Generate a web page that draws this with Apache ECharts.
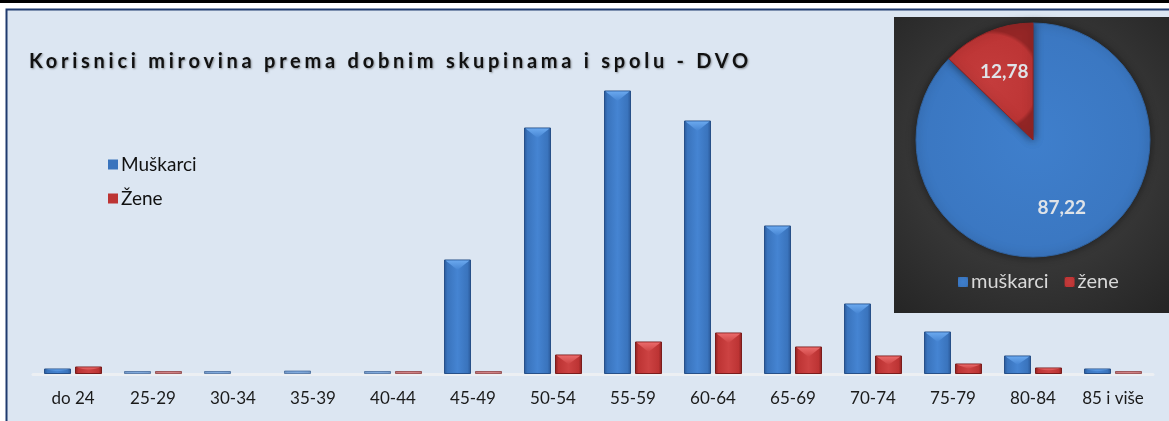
<!DOCTYPE html>
<html>
<head>
<meta charset="utf-8">
<script src="https://cdn.jsdelivr.net/npm/echarts@6/dist/echarts.min.js"></script>
<style>
  html, body { margin: 0; padding: 0; background: #ffffff; }
  #wrap { position: relative; width: 1169px; height: 421px; overflow: hidden; }
  #chart { position: absolute; left: 0; top: 0; width: 1169px; height: 421px; }
  #title { position: absolute; left: 29px; top: 48px; font-family: Lato, sans-serif; font-weight: bold;
           font-size: 20px; color: #111; white-space: nowrap; text-shadow: 1px 1px 2px rgba(0,0,0,0.35); }
</style>
</head>
<body>
<div id="wrap">
  <div id="chart"></div>
  <div id="title">Korisnici mirovina prema dobnim skupinama i spolu - DVO</div>
</div>
<script>
// ---- data ----
var categories = ['do 24','25-29','30-34','35-39','40-44','45-49','50-54','55-59','60-64','65-69','70-74','75-79','80-84','85 i više'];
var barSeriesNames = ['Muškarci', 'Žene'];
var muskarci = [50, 12, 10, 30, 14, 1140, 2460, 2830, 2530, 1480, 700, 420, 180, 50];
var zene     = [70, 8, 0, 0, 8, 20, 190, 320, 410, 270, 180, 100, 60, 12];
var pieNames  = ['muškarci', 'žene'];
var pieValues = [87.22, 12.78];

// fit title letter spacing to its width in the reference
(function(){
  var t = document.getElementById('title');
  t.style.letterSpacing = '0px';
  var w = t.getBoundingClientRect().width;
  var n = t.textContent.length;
  t.style.letterSpacing = ((723 - w) / n).toFixed(2) + 'px';
})();

var palette = {
  blue: { edge: '#2a5897', mid: '#3a74bd', light: '#4584d2', top: '#6aa8ee', stroke: '#275089' },
  red:  { edge: '#8a2020', mid: '#bd3434', light: '#cc4242', top: '#ea6a6a', stroke: '#7a1c1c' }
};

function bevelBar(pal, offset) {
  return function (params, api) {
    var idx = api.value(0), val = api.value(1);
    if (!(val > 0)) return null;
    var p = api.coord([idx, val]);
    var b = api.coord([idx, 0]);
    var w = 26;
    var l = p[0] + offset - w / 2, r = l + w, cx = l + w / 2;
    var bottom = b[1] - 0.5;
    var h = Math.max(bottom - p[1], 2);   // minimum visible height, like barMinHeight
    var top = bottom - h;
    var grad = new echarts.graphic.LinearGradient(0, 0, 1, 0, [
      {offset: 0, color: pal.edge}, {offset: 0.13, color: pal.mid}, {offset: 0.5, color: pal.light},
      {offset: 0.87, color: pal.mid}, {offset: 1, color: pal.edge}]);
    var children = [{ type: 'rect', shape: {x: l, y: top, width: w, height: h},
      style: {fill: grad, stroke: pal.stroke, lineWidth: 1, opacity: h < 3 ? 0.6 : 1} }];
    if (h > 3) {
      var d = Math.min(10, h / 2);
      children.push({ type: 'polygon', shape: {points: [[l + 1, top + 0.5], [r - 1, top + 0.5], [cx, top + d]]},
        style: {fill: new echarts.graphic.LinearGradient(0, 0, 0, 1, [
          {offset: 0, color: pal.top}, {offset: 1, color: pal.light}])} });
    }
    return { type: 'group', children: children };
  };
}

var chart = echarts.init(document.getElementById('chart'), null, {renderer: 'canvas'});
var option = {
  animation: false,
  backgroundColor: '#ffffff',
  textStyle: { fontFamily: 'Lato, sans-serif' },
  graphic: [
    { type: 'rect', silent: true, z: -10, shape: {x: 0, y: 0, width: 1169, height: 3}, style: {fill: '#000000'} },
    { type: 'rect', silent: true, z: -10, shape: {x: 6.5, y: 9.5, width: 1180, height: 430},
      style: {fill: '#dce6f2', stroke: '#1f3a6e', lineWidth: 2} },
    { type: 'rect', silent: true, z: -9, shape: {x: 894, y: 17, width: 275, height: 296},
      style: {fill: new echarts.graphic.RadialGradient(0.5, 0.45, 0.75, [
        {offset: 0, color: '#4b4b4b'}, {offset: 1, color: '#262626'}])} }
  ],
  legend: [
    { data: barSeriesNames, orient: 'vertical', left: 103, top: 150, itemGap: 15,
      itemWidth: 10, itemHeight: 10, icon: 'rect', itemStyle: {borderWidth: 0},
      textStyle: { fontSize: 19, color: '#111', fontFamily: 'Lato, sans-serif', padding: [0,0,0,-2] } },
    { data: pieNames, orient: 'horizontal', left: 953, top: 267, itemGap: 16,
      itemWidth: 10, itemHeight: 10, icon: 'rect', itemStyle: {borderWidth: 0},
      textStyle: { fontSize: 20, color: '#d9d9d9', fontFamily: 'Lato, sans-serif', padding: [0,0,0,-2] } }
  ],
  grid: { left: 33, right: 16, top: 74, bottom: 47, containLabel: false },
  xAxis: {
    type: 'category', data: categories,
    axisLine: { show: true, lineStyle: { color: '#eceff3', width: 3 } },
    axisTick: { show: false },
    axisLabel: { interval: 0, color: '#1a1a1a', fontSize: 17, margin: 16, fontFamily: 'Lato, sans-serif' }
  },
  yAxis: { type: 'value', min: 0, max: 3000, show: false, splitLine: {show: false} },
  series: [
    { name: barSeriesNames[0], type: 'custom', renderItem: bevelBar(palette.blue, -15.5),
      itemStyle: { color: palette.blue.mid }, encode: {x: 0, y: 1},
      data: muskarci.map(function (v, i) { return [i, v]; }) },
    { name: barSeriesNames[1], type: 'custom', renderItem: bevelBar(palette.red, 15.5),
      itemStyle: { color: palette.red.mid }, encode: {x: 0, y: 1},
      data: zene.map(function (v, i) { return [i, v]; }) },
    { name: 'pie', type: 'pie', center: [1033, 140], radius: [0, 117], startAngle: 90, clockwise: true,
      label: { show: false }, labelLine: { show: false },
      itemStyle: { borderWidth: 1, shadowBlur: 8, shadowColor: 'rgba(0,0,0,0.5)' },
      data: pieValues.map(function (v, i) {
        return { name: pieNames[i], value: v,
          itemStyle: { color: i === 0 ? new echarts.graphic.RadialGradient(0.5, 0.5, 0.6, [
              {offset: 0, color: '#3f7fcc'}, {offset: 0.92, color: '#3a76c0'}, {offset: 1, color: '#2f63a4'}])
            : new echarts.graphic.RadialGradient(0.5, 0.5, 0.6, [
              {offset: 0, color: '#c43c3c'}, {offset: 0.92, color: '#bd3535'}, {offset: 1, color: '#952626'}]),
            borderColor: i === 0 ? '#30629f' : '#8e2525' } };
      }) },
    { name: 'pieLabels', type: 'pie', center: [1033, 140], radius: [24, 117], startAngle: 90, clockwise: true,
      silent: true, z: 5, labelLine: { show: false },
      itemStyle: { color: 'rgba(0,0,0,0)' },
      label: { show: true, position: 'inside', color: '#dfe3e8', fontSize: 19, fontWeight: 'bold',
        fontFamily: 'Lato, sans-serif',
        formatter: function (p) { return String(p.value).replace('.', ','); } },
      data: pieValues.map(function (v, i) { return { name: pieNames[i], value: v }; }) }
  ]
};
chart.setOption(option);
</script>
</body>
</html>
